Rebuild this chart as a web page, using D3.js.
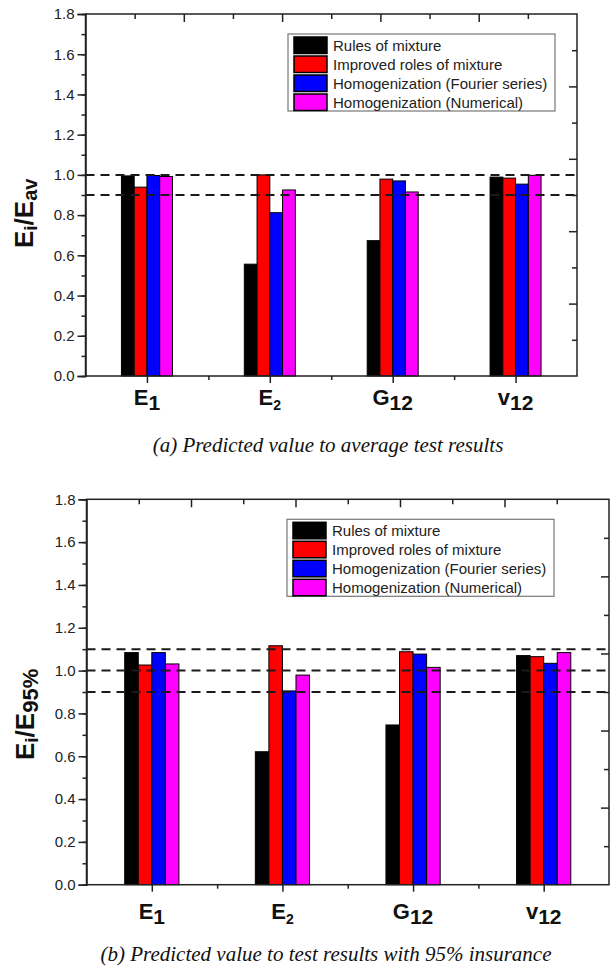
<!DOCTYPE html>
<html><head><meta charset="utf-8">
<script src="https://cdn.jsdelivr.net/npm/d3@7"></script>
<style>
html,body{margin:0;padding:0;background:#fff;}
svg{display:block;}
</style></head>
<body>
<svg id="chart" width="611" height="967"></svg>
<script>
// ---------------- data ----------------
const categories = ["E1", "E2", "G12", "v12"];
const labelMain = ["E", "E", "G", "v"];
const labelSub = ["1", "2", "12", "12"];
const seriesNames = ["Rules of mixture", "Improved roles of mixture", "Homogenization (Fourier series)", "Homogenization (Numerical)"];
const seriesColors = ["#000000", "#ff0000", "#0000ff", "#ff00ff"];

// (a) predicted / average test results
const avgRules     = [0.995, 0.556, 0.673, 0.989];
const avgImproved  = [0.939, 1.000, 0.979, 0.984];
const avgFourier   = [0.997, 0.812, 0.970, 0.954];
const avgNumerical = [0.992, 0.925, 0.915, 0.998];
const avgRefLines  = [1.0, 0.9];

// (b) predicted / 95% test results
const p95Rules     = [1.084, 0.621, 0.746, 1.070];
const p95Improved  = [1.026, 1.116, 1.088, 1.065];
const p95Fourier   = [1.084, 0.905, 1.077, 1.034];
const p95Numerical = [1.031, 0.979, 1.015, 1.084];
const p95RefLines  = [1.1, 1.0, 0.9];

const yTicks = [0.0, 0.2, 0.4, 0.6, 0.8, 1.0, 1.2, 1.4, 1.6, 1.8];
const yDomain = [0, 1.8];

const captionA = "(a) Predicted value to average test results";
const captionB = "(b) Predicted value to test results with 95% insurance";

// ---------------- drawing ----------------
const svg = d3.select("#chart");
const SANS = "'Liberation Sans', Arial, Helvetica, sans-serif";
const SERIF = "'Liberation Serif', 'Times New Roman', serif";

function drawPanel(cfg) {
  const g = svg.append("g");
  const x = d3.scaleBand().domain(categories).range([cfg.x0, cfg.x1]);
  const y = d3.scaleLinear().domain(yDomain).range([cfg.y1, cfg.y0]);
  const groupFrac = 0.415;
  const inner = d3.scaleBand().domain(d3.range(seriesNames.length))
    .range([0, x.bandwidth() * groupFrac]);
  const groupOffset = x.bandwidth() * (1 - groupFrac) / 2;

  // bars
  cfg.values.forEach((vals, si) => {
    g.append("g").selectAll("rect").data(vals).join("rect")
      .attr("x", (d, i) => x(categories[i]) + groupOffset + inner(si))
      .attr("y", d => y(d))
      .attr("width", inner.bandwidth())
      .attr("height", d => y(0) - y(d))
      .attr("fill", seriesColors[si])
      .attr("stroke", "#000")
      .attr("stroke-width", 1);
  });

  // dashed reference lines
  g.append("g").selectAll("line").data(cfg.refLines).join("line")
    .attr("x1", cfg.x0).attr("x2", cfg.x1)
    .attr("y1", d => y(d)).attr("y2", d => y(d))
    .attr("stroke", "#1a1a1a").attr("stroke-width", 2)
    .attr("stroke-dasharray", "9,6");

  // frame
  g.append("rect")
    .attr("x", cfg.x0).attr("y", cfg.y0)
    .attr("width", cfg.x1 - cfg.x0).attr("height", cfg.y1 - cfg.y0)
    .attr("fill", "none").attr("stroke", "#222").attr("stroke-width", 1.5);

  // left axis
  const minorY = d3.range(0, 1.8001, 0.1);
  const leftMinor = d3.axisLeft(y).tickValues(minorY).tickSize(4).tickFormat("");
  const la = g.append("g").attr("transform", `translate(${cfg.x0},0)`).call(leftMinor);
  la.select(".domain").remove();
  const leftAxis = d3.axisLeft(y).tickValues(yTicks).tickSize(8).tickPadding(3)
    .tickFormat(d3.format(".1f"));
  const lb = g.append("g").attr("transform", `translate(${cfg.x0},0)`).call(leftAxis);
  lb.select(".domain").attr("stroke", "#222").attr("stroke-width", 1.5);
  lb.selectAll("text").attr("font-family", SANS).attr("font-size", 15).attr("fill", "#222");
  g.selectAll(".tick line").attr("stroke", "#222").attr("stroke-width", 1.5);

  // bottom axis: major at category centers, minor at boundaries
  const xLin = d3.scaleLinear().domain([0, categories.length]).range([cfg.x0, cfg.x1]);
  const bMinor = d3.axisBottom(xLin).tickValues(d3.range(1, categories.length)).tickSize(4).tickFormat("");
  const bm = g.append("g").attr("transform", `translate(0,${cfg.y1})`).call(bMinor);
  bm.select(".domain").remove();
  const bMajor = d3.axisBottom(xLin).tickValues(d3.range(0.5, categories.length, 1)).tickSize(7).tickFormat("");
  const bM = g.append("g").attr("transform", `translate(0,${cfg.y1})`).call(bMajor);
  bM.select(".domain").remove();

  // top and right mirrored axes (10 divisions, inward ticks)
  const topS = d3.scaleLinear().domain([0, 10]).range([cfg.x0, cfg.x1]);
  const ta = g.append("g").attr("transform", `translate(0,${cfg.y0})`)
    .call(d3.axisTop(topS).tickValues(d3.range(1, 10)).tickSizeInner(-5).tickSizeOuter(0).tickFormat(""));
  ta.select(".domain").remove();
  ta.selectAll(".tick line").attr("y2", (d) => d % 2 === 0 ? 8 : 5);
  const rightS = d3.scaleLinear().domain([0, 10]).range([cfg.y1, cfg.y0]);
  const ra = g.append("g").attr("transform", `translate(${cfg.x1},0)`)
    .call(d3.axisRight(rightS).tickValues(d3.range(1, 10)).tickSizeInner(-5).tickSizeOuter(0).tickFormat(""));
  ra.select(".domain").remove();
  ra.selectAll(".tick line").attr("x2", (d) => d % 2 === 0 ? -8 : -5);
  g.selectAll(".tick line").attr("stroke", "#222").attr("stroke-width", 1.5);

  // category labels
  const lab = g.append("g").selectAll("text").data(categories).join("text")
    .attr("x", d => x(d) + x.bandwidth() / 2)
    .attr("y", cfg.y1 + cfg.labelDy)
    .attr("text-anchor", "middle")
    .attr("font-family", SANS).attr("font-weight", "bold").attr("fill", "#111");
  lab.append("tspan").attr("font-size", 22).text((d, i) => labelMain[i]);
  lab.append("tspan").attr("font-size", (d, i) => labelSub[i] === "2" ? 14 : 21)
    .attr("dy", 5).text((d, i) => labelSub[i]);

  // y title (rotated)
  const t = g.append("text")
    .attr("transform", `translate(${cfg.titleX},${cfg.titleY}) rotate(-90)`)
    .attr("text-anchor", "start")
    .attr("font-family", SANS).attr("font-weight", "bold").attr("fill", "#111");
  t.append("tspan").attr("font-size", 26).text("E");
  t.append("tspan").attr("font-size", 19).attr("dy", 4).text("i");
  t.append("tspan").attr("font-size", 26).attr("dy", -4).text("/E");
  t.append("tspan").attr("font-size", cfg.titleSubSize).attr("dy", 4).text(cfg.titleSub);

  // legend
  const lg = g.append("g");
  const ly0 = cfg.y0 + 20;
  lg.append("rect").attr("x", cfg.legX).attr("y", ly0)
    .attr("width", 267).attr("height", 77)
    .attr("fill", "#fff").attr("stroke", "#777").attr("stroke-width", 1.2);
  const rows = lg.selectAll("g").data(seriesNames).join("g")
    .attr("transform", (d, i) => `translate(${cfg.legX + 6},${ly0 + 3 + i * 19})`);
  rows.append("rect").attr("width", 33).attr("height", 16.5)
    .attr("fill", (d, i) => seriesColors[i]).attr("stroke", "#000").attr("stroke-width", 1.5);
  rows.append("text").attr("x", 39).attr("y", 14)
    .attr("font-family", SANS).attr("font-size", 15).attr("fill", "#222")
    .text(d => d);

  // caption
  svg.append("text").attr("x", cfg.capX).attr("y", cfg.capY)
    .attr("text-anchor", "middle")
    .attr("font-family", SERIF).attr("font-style", "italic")
    .attr("font-size", 21).attr("fill", "#111")
    .text(cfg.caption);
}

drawPanel({
  x0: 85.5, x1: 577, y0: 14, y1: 376,
  values: [avgRules, avgImproved, avgFourier, avgNumerical],
  refLines: avgRefLines,
  labelDy: 29, titleX: 33, titleY: 248, titleSub: "av", titleSubSize: 20,
  legX: 288, caption: captionA, capX: 328, capY: 452
});

drawPanel({
  x0: 86.5, x1: 609, y0: 499.3, y1: 884.7,
  values: [p95Rules, p95Improved, p95Fourier, p95Numerical],
  refLines: p95RefLines,
  labelDy: 34, titleX: 34, titleY: 760, titleSub: "95%", titleSubSize: 22,
  legX: 287, caption: captionB, capX: 326, capY: 961
});
</script>
</body></html>
